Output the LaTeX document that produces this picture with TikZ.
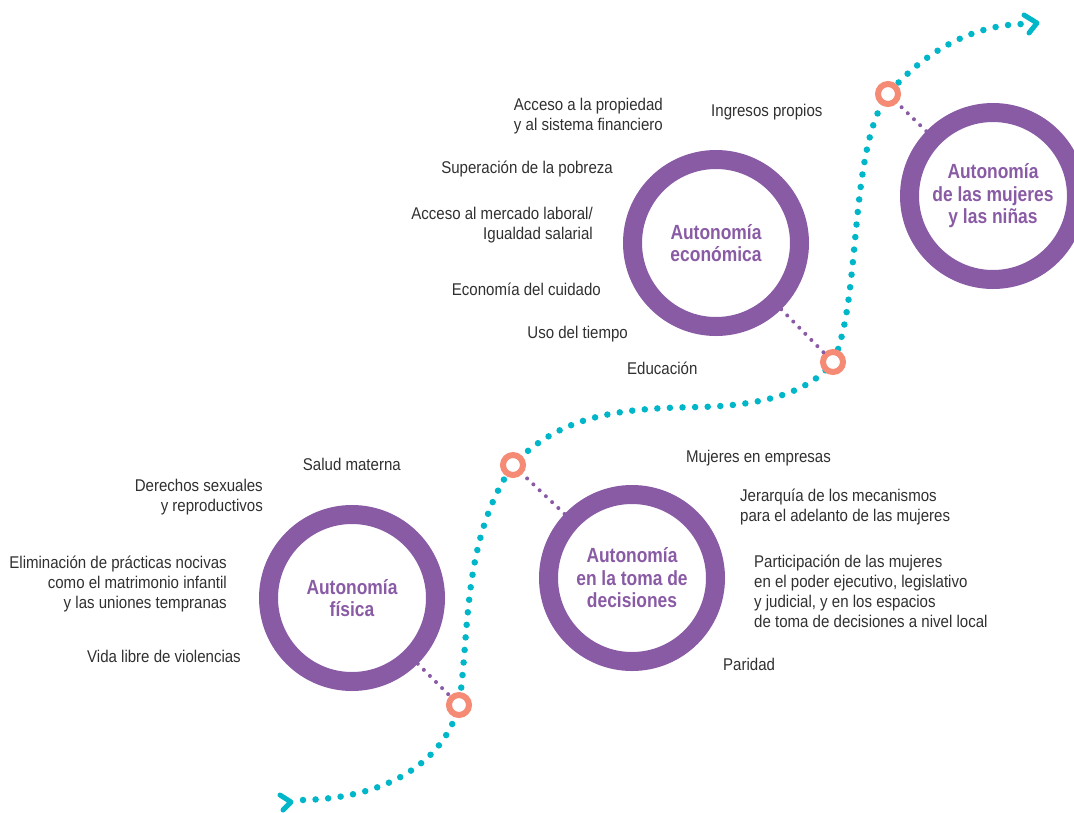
\documentclass[tikz,border=0pt]{standalone}
\usepackage{fontspec}
\setmainfont{Liberation Sans}[FakeStretch=0.885]
\newfontfamily\titlefont{Liberation Sans}[FakeStretch=0.85]
\definecolor{ringpurple}{HTML}{8A5BA5}
\definecolor{pathteal}{HTML}{00B6C9}
\definecolor{dotpink}{HTML}{F58B74}
\definecolor{txtgray}{HTML}{303030}
\begin{document}
\begin{tikzpicture}[x=1pt,y=-1pt,
  bigring/.style={circle,draw=ringpurple,line width=19pt,minimum size=167pt,inner sep=0pt,
     text=ringpurple,align=center,font=\titlefont\bfseries\fontsize{20.5}{22.5}\selectfont},
  pinkring/.style={circle,draw=dotpink,line width=6pt,fill=white,minimum size=20pt,inner sep=0pt},
  tealdots/.style={draw=pathteal,line width=6.5pt,line cap=round,dash pattern=on 0pt off 12.6pt},
  purpledots/.style={draw=ringpurple,line width=4pt,line cap=round,dash pattern=on 0pt off 8.6pt},
  chevron/.style={draw=pathteal,line width=5pt,line cap=round,line join=round},
  lbl/.style={inner sep=0pt,text=txtgray,font=\fontsize{17}{20}\selectfont},
  lblr/.style={lbl,align=right,anchor=east},
  lbll/.style={lbl,align=left,anchor=west}]
\useasboundingbox (0,0) rectangle (1074,812);
% coordinates of the path
\coordinate (s) at (303,800);
\coordinate (e) at (1022,24);
\coordinate (st) at (291,802);
\coordinate (et) at (1037,23);
% pink ring positions (nodes drawn later)
\coordinate (c1) at (459,705);
\coordinate (c2) at (513,465);
\coordinate (c3) at (833,362);
\coordinate (c4) at (888,94);
% teal dotted path
\path[tealdots] (s) .. controls (390,798) and (445,760) .. (c1)
   .. controls (470,630) and (462,540) .. (c2)
   .. controls (560,415) and (620,408) .. (700,407)
   .. controls (780,405) and (815,385) .. (c3)
   .. controls (862,300) and (848,150) .. (c4)
   .. controls (930,45) and (980,25) .. (e);
% chevrons
\draw[chevron] (280,795) -- (st) -- (283,810);
\draw[chevron] (1024,15) -- (et) -- (1029,33);
% big rings
\node[bigring] (fis) at (352,598) {Autonomía\\física};
\node[bigring] (tom) at (632,578) {Autonomía\\en la toma de\\decisiones};
\node[bigring] (eco) at (716,243) {Autonomía\\económica};
\node[bigring] (muj) at (993,196) {Autonomía\\de las mujeres\\y las niñas};
% pink rings
\node[pinkring] (p1) at (c1) {};
\node[pinkring] (p2) at (c2) {};
\node[pinkring] (p3) at (c3) {};
\node[pinkring] (p4) at (c4) {};
% purple connectors
\path[purpledots] (fis) -- (p1);
\path[purpledots] (tom) -- (p2);
\path[purpledots] (eco) -- (p3);
\path[purpledots] (muj) -- (p4);
% labels: física
\node[lblr] (l1) at (401,464) {Salud materna};
\node[lblr] (l2) at (263,497) {Derechos sexuales\\y reproductivos};
\node[lblr] (l3) at (227,584) {Eliminación de prácticas nocivas\\como el matrimonio infantil\\y las uniones tempranas};
\node[lblr] (l4) at (241,656) {Vida libre de violencias};
% labels: económica
\node[lblr] (l5) at (663,116) {Acceso a la propiedad\\y al sistema financiero};
\node[lbll] (l6) at (711,112) {Ingresos propios};
\node[lblr] (l7) at (613,169) {Superación de la pobreza};
\node[lblr] (l8) at (593,225) {Acceso al mercado laboral/\\Igualdad salarial};
\node[lblr] (l9) at (601,289) {Economía del cuidado};
\node[lblr] (l10) at (628,334) {Uso del tiempo};
\node[lbll] (l11) at (627,368) {Educación};
% labels: toma de decisiones
\node[lbll] (l12) at (686,458) {Mujeres en empresas};
\node[lbll] (l13) at (740,507) {Jerarquía de los mecanismos\\para el adelanto de las mujeres};
\node[lbll] (l14) at (754,591) {Participación de las mujeres\\en el poder ejecutivo, legislativo\\y judicial, y en los espacios\\de toma de decisiones a nivel local};
\node[lbll] (l15) at (723,664) {Paridad};
\end{tikzpicture}
\end{document}
